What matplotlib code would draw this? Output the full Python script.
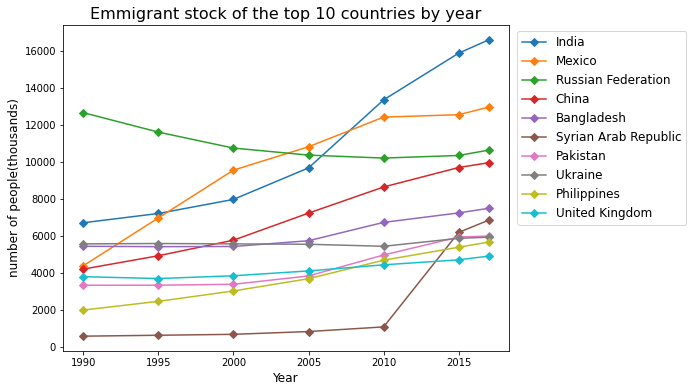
import matplotlib
matplotlib.use("Agg")
import matplotlib.pyplot as plt

years = [1990, 1995, 2000, 2005, 2010, 2015, 2017]
countries = ["India", "Mexico", "Russian Federation", "China", "Bangladesh",
             "Syrian Arab Republic", "Pakistan", "Ukraine", "Philippines", "United Kingdom"]
india = [6720, 7220, 7980, 9680, 13350, 15870, 16590]
mexico = [4400, 6980, 9560, 10820, 12420, 12550, 12960]
russia = [12660, 11610, 10750, 10370, 10210, 10350, 10640]
china = [4220, 4940, 5780, 7240, 8650, 9700, 9960]
bangladesh = [5450, 5430, 5440, 5750, 6740, 7250, 7500]
syria = [600, 650, 700, 850, 1100, 6200, 6860]
pakistan = [3350, 3350, 3400, 3850, 4980, 5950, 6000]
ukraine = [5580, 5600, 5580, 5560, 5450, 5880, 5940]
philippines = [2010, 2480, 3040, 3700, 4700, 5400, 5680]
uk = [3810, 3710, 3860, 4120, 4450, 4720, 4920]

series = [india, mexico, russia, china, bangladesh, syria, pakistan, ukraine, philippines, uk]

DPI = 72
fig = plt.figure(figsize=(691 / DPI, 392 / DPI), dpi=DPI)
ax = fig.add_axes([0.0912, 0.1046, 0.6454, 0.8316])
for name, vals in zip(countries, series):
    ax.plot(years, vals, marker="D", label=name)

ax.set_title("Emmigrant stock of the top 10 countries by year", fontsize=16)
ax.set_xlabel("Year", fontsize=12)
ax.set_ylabel("number of people(thousands)", fontsize=12)
ax.tick_params(labelsize=10)
ax.legend(loc="upper left", bbox_to_anchor=(1.005, 1.0), fontsize=12)
fig.savefig("out.png", dpi=DPI)
